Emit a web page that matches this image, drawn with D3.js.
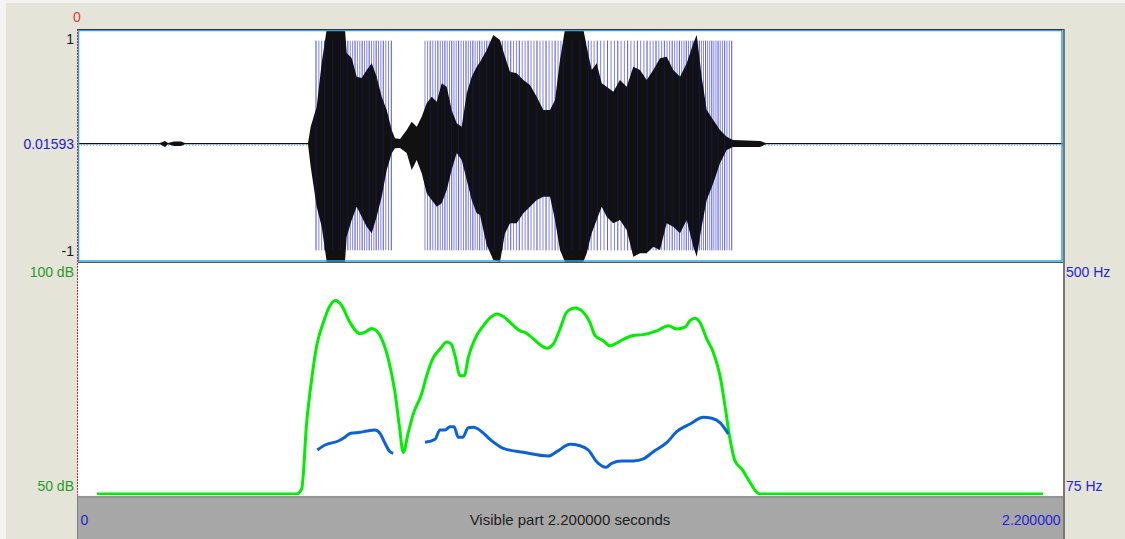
<!DOCTYPE html>
<html>
<head>
<meta charset="utf-8">
<script src="https://cdn.jsdelivr.net/npm/d3@7"></script>
<style>
  body { margin: 0; background: #f3f3f1; }
  svg { display: block; font-family: "Liberation Sans", Arial, sans-serif; }
</style>
</head>
<body>
<script>
// window size
var width = 1125;
var height = 539;

// waveform envelope (seconds, upper and lower amplitude)
const waveTime = [0, 0.1831, 0.1943, 0.2010, 0.2144, 0.2300, 0.2390, 0.5137, 0.5197, 0.5331,
  0.5443, 0.5555, 0.5963, 0.6001, 0.6113, 0.6225, 0.6336, 0.6448, 0.6560, 0.6671,
  0.6783, 0.6895, 0.7006, 0.7080, 0.7192, 0.7342, 0.7453, 0.7565, 0.7677, 0.7788,
  0.7900, 0.8012, 0.8123, 0.8235, 0.8346, 0.8458, 0.8570, 0.8682, 0.8793, 0.8905,
  0.8979, 0.9128, 0.9276, 0.9425, 0.9537, 0.9649, 0.9798, 0.9946, 1.0095, 1.0245,
  1.0393, 1.0542, 1.0654, 1.0765, 1.0877, 1.1286, 1.1362, 1.1473, 1.1585, 1.1697,
  1.1808, 1.1956, 1.2105, 1.2255, 1.2403, 1.2552, 1.2702, 1.2849, 1.2999, 1.3148,
  1.3296, 1.3446, 1.3595, 1.3743, 1.3819, 1.3930, 1.4042, 1.4189, 1.4339, 1.4489,
  1.4629, 1.5232, 1.5366, 2.2];
const waveMax = [0.021, 0.021, 0.039, 0.021, 0.034, 0.034, 0.021, 0.021, 0.161, 0.333,
  0.708, 1.0, 1.0, 0.794, 0.751, 0.591, 0.579, 0.648, 0.706, 0.591,
  0.419, 0.305, 0.133, 0.062, 0.056, 0.133, 0.204, 0.161, 0.247, 0.362,
  0.419, 0.376, 0.534, 0.505, 0.305, 0.191, 0.161, 0.448, 0.591, 0.676,
  0.717, 0.820, 0.948, 0.906, 0.762, 0.633, 0.620, 0.562, 0.519, 0.419,
  0.305, 0.305, 0.391, 0.734, 1.0, 1.0, 0.848, 0.648, 0.706, 0.534,
  0.505, 0.462, 0.562, 0.505, 0.676, 0.648, 0.562, 0.648, 0.748, 0.762,
  0.648, 0.591, 0.706, 0.877, 0.948, 0.591, 0.305, 0.219, 0.133, 0.076,
  0.047, 0.039, 0.021, 0.021];
const waveMin = [0.010, 0.010, -0.013, 0.010, -0.004, -0.004, 0.010, 0.010, -0.182, -0.525,
  -0.697, -1.0, -1.0, -0.783, -0.639, -0.525, -0.611, -0.697, -0.754, -0.611,
  -0.439, -0.210, -0.067, -0.024, -0.021, -0.064, -0.210, -0.124, -0.239, -0.410,
  -0.468, -0.525, -0.496, -0.382, -0.210, -0.064, -0.124, -0.296, -0.468, -0.582,
  -0.597, -0.854, -0.983, -1.0, -0.754, -0.668, -0.668, -0.582, -0.525, -0.468,
  -0.439, -0.439, -0.639, -0.897, -1.0, -1.0, -0.925, -0.754, -0.639, -0.525,
  -0.611, -0.668, -0.639, -0.725, -0.955, -0.925, -0.925, -0.869, -0.897, -0.668,
  -0.697, -0.754, -0.639, -0.869, -0.955, -0.697, -0.468, -0.324, -0.153, -0.039,
  -0.013, -0.013, 0.010, 0.010];

// intensity contour (dB)
const intensityTime = [0.0424, 0.4885, 0.4996, 0.5108, 0.5220, 0.5331, 0.5479, 0.5628, 0.5762, 0.5890,
  0.6075, 0.6298, 0.6410, 0.6560, 0.6671, 0.6783, 0.6930, 0.7080, 0.7176, 0.7265,
  0.7377, 0.7489, 0.7676, 0.7788, 0.7922, 0.8085, 0.8235, 0.8331, 0.8420, 0.8532,
  0.8628, 0.8717, 0.8867, 0.9052, 0.9240, 0.9352, 0.9499, 0.9687, 0.9872, 0.9984,
  1.0169, 1.0468, 1.0616, 1.0765, 1.0915, 1.1100, 1.1286, 1.1435, 1.1547, 1.1732,
  1.1882, 1.1994, 1.2143, 1.2403, 1.2626, 1.2925, 1.3184, 1.3372, 1.3557, 1.3669,
  1.3781, 1.3892, 1.4042, 1.4189, 1.4339, 1.4451, 1.4562, 1.4674, 1.4824, 1.5009,
  1.5159, 1.5233, 2.1553];
const intensityDb = [50.0, 50.0, 51.1, 65.4, 74.7, 81.8, 86.8, 90.4, 91.5, 90.4,
  86.8, 84.4, 84.7, 85.5, 85.0, 83.3, 79.0, 71.8, 64.7, 58.9,
  63.2, 67.2, 71.5, 75.4, 79.0, 81.1, 82.6, 82.2, 79.7, 75.4,
  75.4, 79.3, 83.3, 86.1, 88.1, 88.6, 88.1, 86.5, 85.0, 84.7,
  83.3, 81.3, 82.2, 85.4, 89.0, 89.9, 89.0, 86.8, 84.0, 82.9,
  81.8, 82.2, 83.0, 84.0, 84.2, 85.0, 86.1, 85.4, 85.8, 87.2,
  87.7, 86.8, 83.3, 80.4, 75.4, 68.9, 61.8, 57.1, 55.4, 52.5,
  50.4, 50.0, 50.0];

// pitch contour (Hz), null = unvoiced
const pitchTime = [0.5345, 0.5517, 0.5814, 0.5925, 0.6091, 0.6298, 0.6448, 0.6633, 0.6745, 0.6857,
  0.6968, 0.7042, 0.7400, 0.7750, 0.7974, 0.8085, 0.8197, 0.8309, 0.8398, 0.8494,
  0.8592, 0.8717, 0.8829, 0.9017, 0.9202, 0.9499, 0.9946, 1.0504, 1.0692, 1.0989,
  1.1212, 1.1397, 1.1585, 1.1793, 1.1920, 1.2143, 1.2403, 1.2626, 1.2849, 1.3148,
  1.3372, 1.3669, 1.3966, 1.4154, 1.4339, 1.4524];
const pitchHz = [157.1, 166.2, 173.5, 178.4, 187.5, 189.4, 191.7, 193.6, 187.5, 169.3,
  153.9, 151.1, null, 171.1, 176.6, 193.6, 193.6, 199.6, 199.6, 180.2,
  180.2, 197.8, 198.5, 190.5, 176.6, 160.2, 152.9, 146.1, 154.0, 167.5,
  164.9, 157.1, 135.7, 125.5, 132.8, 137.0, 137.0, 140.7, 154.0, 170.4,
  190.5, 204.5, 216.7, 214.9, 206.9, 186.3];

// voiced stretches that carry glottal pulses
const pulseStart = [0.5316, 0.7750];
const pulseEnd = [0.7058, 1.4630];

// tick labels
const waveTicks = [-1, 0.01593, 1];
const waveLabels = ["-1", "0.01593", "1"];
const dbTicks = [50, 100];
const hzTicks = [75, 500];
const timeTicks = [0, 2.2];
const timeLabels = ["0", "2.200000"];

const left = 78, right = 1063;
const waveTop = 29, waveBottom = 262, specBottom = 495, barBottom = 539;

var svg = d3.select("body").append("svg")
  .attr("width", width)
  .attr("height", height);

// window background
svg.append("rect").attr("width", width).attr("height", height).attr("fill", "#f3f3f1");
svg.append("rect").attr("x", 6).attr("y", 3).attr("width", width - 6).attr("height", height - 3)
  .attr("fill", "#e5e4d8");

// scales
var x = d3.scaleLinear().domain([0, 2.2]).range([left, right]);
var yWave = d3.scaleLinear().domain([-1, 1]).range([waveBottom, waveTop]);
var yDb = d3.scaleLinear().domain([50, 100]).range([specBottom, waveBottom]);
var yHz = d3.scaleLinear().domain([75, 500]).range([specBottom, waveBottom]);

// panels
svg.append("rect").attr("x", left).attr("y", waveTop).attr("width", right - left)
  .attr("height", specBottom - waveTop).attr("fill", "#fff");

var defs = svg.append("defs");
defs.append("clipPath").attr("id", "clipWave").append("rect")
  .attr("x", left).attr("y", waveTop).attr("width", right - left).attr("height", waveBottom - waveTop);
defs.append("clipPath").attr("id", "clipSpec").append("rect")
  .attr("x", left).attr("y", waveBottom).attr("width", right - left).attr("height", specBottom - waveBottom + 2);

// zero line of the sound
svg.append("line")
  .attr("x1", left).attr("x2", right)
  .attr("y1", yWave(0.01593) + 1.5).attr("y2", yWave(0.01593) + 1.5)
  .attr("stroke", "#35b4ea").attr("stroke-width", 1).attr("stroke-dasharray", "1,2");

var gWave = svg.append("g").attr("clip-path", "url(#clipWave)");

// pulses, one per pitch period inside each voiced stretch
var voiced = pitchTime.map((t, i) => ({t: t, f: pitchHz[i]})).filter(d => d.f != null);
var fAt = function (t) {
  var i = d3.bisector(d => d.t).left(voiced, t);
  if (i <= 0) return voiced[0].f;
  if (i >= voiced.length) return voiced[voiced.length - 1].f;
  var a = voiced[i - 1], b = voiced[i];
  return a.f + (b.f - a.f) * (t - a.t) / (b.t - a.t);
};
var pulses = [];
pulseStart.forEach(function (s, k) {
  var t = s;
  while (t <= pulseEnd[k]) {
    pulses.push(t);
    t += 1 / fAt(t);
  }
});
gWave.selectAll(".pulse")
  .data(pulses)
  .enter()
  .append("line")
  .attr("class", "pulse")
  .attr("x1", d => x(d)).attr("x2", d => x(d))
  .attr("y1", yWave(0.9)).attr("y2", yWave(-0.9))
  .attr("stroke", "#3030e0")
  .attr("stroke-opacity", 0.6)
  .attr("stroke-width", 1);

// waveform as filled envelope
var waveData = waveTime.map((t, i) => ({t: t, hi: waveMax[i], lo: waveMin[i]}));
var area = d3.area()
  .x(d => x(d.t))
  .y0(d => yWave(d.lo))
  .y1(d => yWave(d.hi));
gWave.append("path")
  .datum(waveData)
  .attr("d", area)
  .attr("fill", "#111")
  .attr("stroke", "none");

// pulses show faintly through the dark sound
gWave.selectAll(".pulseTop")
  .data(pulses.filter((d, i) => i % 3 === 0))
  .enter()
  .append("line")
  .attr("class", "pulseTop")
  .attr("x1", d => x(d)).attr("x2", d => x(d))
  .attr("y1", yWave(0.9)).attr("y2", yWave(-0.9))
  .attr("stroke", "#2020c0")
  .attr("stroke-opacity", 0.35)
  .attr("stroke-width", 1);

// intensity and pitch curves
var gSpec = svg.append("g").attr("clip-path", "url(#clipSpec)");
gSpec.append("path")
  .datum(intensityTime.map((t, i) => [t, intensityDb[i]]))
  .attr("d", d3.line().x(d => x(d[0])).y(d => yDb(d[1]) - 1).curve(d3.curveMonotoneX))
  .attr("fill", "none")
  .attr("stroke", "#00ee00")
  .attr("stroke-width", 3)
  .attr("stroke-linejoin", "round");

gSpec.append("path")
  .datum(pitchTime.map((t, i) => [t, pitchHz[i]]))
  .attr("d", d3.line().defined(d => d[1] != null).x(d => x(d[0])).y(d => yHz(d[1])).curve(d3.curveMonotoneX))
  .attr("fill", "none")
  .attr("stroke", "#0a62d6")
  .attr("stroke-width", 3)
  .attr("stroke-linejoin", "round");

// frames
svg.append("rect").attr("x", left + 0.5).attr("y", waveTop + 1.5)
  .attr("width", right - left - 1.5).attr("height", waveBottom - waveTop - 2.5)
  .attr("fill", "none").attr("stroke", "#2aa6e6").attr("stroke-width", 1.5);
svg.append("line").attr("x1", left).attr("x2", right + 1).attr("y1", waveTop + 0.5).attr("y2", waveTop + 0.5)
  .attr("stroke", "#333").attr("stroke-width", 1);
svg.append("line").attr("x1", left).attr("x2", right).attr("y1", waveBottom + 0.5).attr("y2", waveBottom + 0.5)
  .attr("stroke", "#555").attr("stroke-width", 1);
svg.append("line").attr("x1", right + 1).attr("x2", right + 1).attr("y1", waveTop).attr("y2", barBottom)
  .attr("stroke", "#555").attr("stroke-width", 1.5);

// time bar at the bottom
svg.append("rect").attr("x", left - 1).attr("y", specBottom + 1).attr("width", right - left + 1)
  .attr("height", barBottom - specBottom).attr("fill", "#a7a7a7");
svg.append("line").attr("x1", left - 1).attr("x2", right).attr("y1", specBottom + 0.5).attr("y2", specBottom + 0.5)
  .attr("stroke", "#fafafa").attr("stroke-width", 1);
svg.append("line").attr("x1", left - 1).attr("x2", right).attr("y1", specBottom + 2).attr("y2", specBottom + 2)
  .attr("stroke", "#808080").attr("stroke-width", 1);
svg.append("line").attr("x1", left - 0.5).attr("x2", left - 0.5).attr("y1", specBottom).attr("y2", barBottom)
  .attr("stroke", "#808080").attr("stroke-width", 1);

svg.append("text")
  .attr("x", 570).attr("y", 525)
  .attr("text-anchor", "middle")
  .attr("font-size", 15)
  .attr("fill", "#1e1e1e")
  .text("Visible part 2.200000 seconds");

// cursor at time 0
svg.append("line").attr("x1", left - 0.5).attr("x2", left - 0.5).attr("y1", waveTop).attr("y2", specBottom)
  .attr("stroke", "#c03030").attr("stroke-width", 1).attr("stroke-dasharray", "2,1");
svg.append("text").attr("x", left - 1).attr("y", 22).attr("text-anchor", "middle")
  .attr("font-size", 14).attr("fill", "#e03c3c").text("0");

// axes
function styleAxis(g, color) {
  g.select(".domain").remove();
  g.selectAll("text").attr("font-size", 14).attr("fill", color)
    .attr("font-family", "Liberation Sans, Arial, sans-serif");
}

var waveAxis = svg.append("g").attr("transform", `translate(${left},0)`)
  .call(d3.axisLeft(yWave).tickValues(waveTicks).tickSize(0).tickPadding(4)
    .tickFormat((d, i) => waveLabels[i]));
styleAxis(waveAxis, "#1a1a1a");
waveAxis.selectAll("text")
  .attr("fill", d => d === 0.01593 ? "#2020d0" : "#1a1a1a")
  .attr("dy", d => d === 1 ? "1.05em" : d === -1 ? "-0.45em" : "0.32em");

var dbAxis = svg.append("g").attr("transform", `translate(${left},0)`)
  .call(d3.axisLeft(yDb).tickValues(dbTicks).tickSize(0).tickPadding(4).tickFormat(d => d + " dB"));
styleAxis(dbAxis, "#2b9a2b");
dbAxis.selectAll("text").attr("dy", d => d === 100 ? "1.0em" : "-0.3em");

var hzAxis = svg.append("g").attr("transform", `translate(${right},0)`)
  .call(d3.axisRight(yHz).tickValues(hzTicks).tickSize(0).tickPadding(3).tickFormat(d => d + " Hz"));
styleAxis(hzAxis, "#2424d4");
hzAxis.selectAll("text").attr("dy", d => d === 500 ? "1.0em" : "-0.3em");

var timeAxis = svg.append("g").attr("transform", `translate(0,${specBottom})`)
  .call(d3.axisBottom(x).tickValues(timeTicks).tickSize(0).tickPadding(0)
    .tickFormat((d, i) => timeLabels[i]));
styleAxis(timeAxis, "#2424d4");
timeAxis.selectAll("text")
  .attr("y", 30).attr("dy", 0)
  .attr("text-anchor", (d, i) => i === 0 ? "start" : "end")
  .attr("dx", (d, i) => i === 0 ? 2 : -3);
</script>
</body>
</html>
